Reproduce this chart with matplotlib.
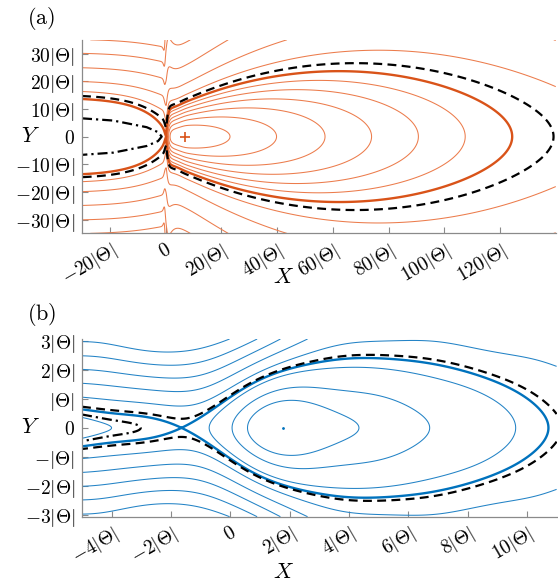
import numpy as np
import matplotlib
matplotlib.use("Agg")
import matplotlib.pyplot as plt

plt.rcParams["mathtext.fontset"] = "cm"
plt.rcParams["font.family"] = "serif"
plt.rcParams["font.serif"] = ["DejaVu Serif"]
plt.rcParams["contour.negative_linestyle"] = "solid"

ORANGE, ORANGE_T = "#D95319", "#EC7C4C"
BLUE, BLUE_T = "#0072BD", "#2383C6"

# ======================= panel (a): values, X, Y in |Theta| =======================
a_xlim, a_ylim = (-30, 140), (-35, 35)
a_xticks = [-20, 0, 20, 40, 60, 80, 100, 120]
a_xticklabels = [r"$-20|\Theta|$", r"$0$", r"$20|\Theta|$", r"$40|\Theta|$", r"$60|\Theta|$",
                 r"$80|\Theta|$", r"$100|\Theta|$", r"$120|\Theta|$"]
a_yticks = [-30, -20, -10, 0, 10, 20, 30]
a_yticklabels = [r"$-30|\Theta|$", r"$-20|\Theta|$", r"$-10|\Theta|$", r"$0$",
                 r"$10|\Theta|$", r"$20|\Theta|$", r"$30|\Theta|$"]
a_center = (6.9, 0.0)
a_saddle = 0.2
a_sep_left = (-30.0, 13.6)          # separatrix height at the left edge
a_sep_right_end = 124.4             # separatrix crossing of Y = 0 on the right
a_closed_right_ends = [23.1, 39.8, 57.2, 73.9, 90.7, 107.5]
a_open_starts = [(-27.0, 35.0), (-30.0, 30.1), (-30.0, 24.9), (-30.0, 19.9), (-30.0, 16.3)]
a_dashed_right_end = 139.2
a_dashdot = [(-30, 6.6), (-18.8, 5.8), (-6.8, 3.4), (-2.7, 1.6), (-1.4, 0.0)]
# shape parameters of the (a) phase-space function, fitted by hand to the traced separatrix
a_GL, a_ell, a_pw, a_lam = 0.49, 12.9, 1.2, 0.59
a_invG = (0.3, 0.085, 0.0014, -0.0000095)

# ======================= panel (b) =======================
b_xlim, b_ylim = (-5, 11), (-3.07, 3.07)
b_xticks = [-4, -2, 0, 2, 4, 6, 8, 10]
b_xticklabels = [r"$-4|\Theta|$", r"$-2|\Theta|$", r"$0$", r"$2|\Theta|$", r"$4|\Theta|$",
                 r"$6|\Theta|$", r"$8|\Theta|$", r"$10|\Theta|$"]
b_yticks = [-3, -2, -1, 0, 1, 2, 3]
b_yticklabels = [r"$-3|\Theta|$", r"$-2|\Theta|$", r"$-|\Theta|$", r"$0$",
                 r"$|\Theta|$", r"$2|\Theta|$", r"$3|\Theta|$"]
b_center = (1.79, 0.0)
b_saddle = -1.63
b_sep = [(-4.99, 0.61), (-3.93, 0.46), (-2.80, 0.27), (-1.63, 0.0), (-0.79, 0.44), (0.0, 1.07),
         (0.79, 1.59), (1.69, 1.92), (2.36, 2.11), (3.14, 2.31), (4.27, 2.42), (5.39, 2.42),
         (6.51, 2.28), (7.64, 2.06), (8.76, 1.59), (9.65, 1.02), (10.33, 0.21), (10.65, 0.0)]
b_closed = {
    "c1": [(0.56, 0), (0.9, 0.5), (1.5, 0.75), (2.3, 0.84), (3.37, 0.73), (4.0, 0.4), (4.3, 0)],
    "c2": [(0.06, 0), (0.34, 0.61), (0.9, 1.1), (2.02, 1.40), (3.14, 1.43), (4.27, 1.25),
           (5.39, 0.9), (6.29, 0.44), (6.68, 0)],
    "c3": [(-0.69, 0), (0.0, 0.78), (0.9, 1.38), (2.02, 1.92), (3.14, 2.08), (4.83, 2.14),
           (6.5, 1.95), (7.64, 1.7), (8.76, 1.2), (9.63, 0)],
}
b_open = {
    "p1": [(-4.99, 2.98), (-3.93, 2.86), (-2.80, 2.72), (-2.02, 2.69), (-1.35, 2.75),
           (-0.79, 2.89), (-0.33, 3.03)],
    "p2": [(-4.99, 2.49), (-3.93, 2.40), (-2.80, 2.23), (-2.13, 2.15), (-1.35, 2.19),
           (-0.56, 2.40), (0.11, 2.69), (0.73, 3.03)],
    "p3": [(-4.99, 2.02), (-3.93, 1.92), (-2.80, 1.74), (-2.02, 1.65), (-1.24, 1.71),
           (-0.56, 1.88), (0.11, 2.17), (0.79, 2.57), (1.69, 3.03)],
    "p4": [(-4.99, 1.54), (-3.93, 1.42), (-2.80, 1.25), (-1.90, 1.13), (-1.12, 1.19),
           (-0.33, 1.48), (0.34, 1.88), (1.01, 2.28), (1.69, 2.57), (2.36, 2.80), (2.97, 3.07)],
    "p5": [(-4.99, 1.06), (-3.93, 0.96), (-2.8, 0.82), (-1.7, 0.70), (-0.8, 0.92), (0.0, 1.40),
           (1.0, 1.95), (2.02, 2.40), (3.14, 2.75), (4.27, 2.92), (5.96, 2.98), (7.64, 2.84),
           (9.32, 2.57), (10.89, 2.17)],
}
b_inner = [(-4.99, 0.36), (-4.4, 0.25), (-3.70, 0.0)]
b_flat = [(2.3, 0.84), (2.7, 1.45), (4.8, 2.14), (4.8, 2.42), (5.96, 2.98), (4.8, 2.49),
          (-2.02, 2.69), (-2.13, 2.15), (-2.02, 1.65), (-1.9, 1.13)]
b_dashed = [(-4.99, 0.73), (-3.93, 0.61), (-2.80, 0.40), (-1.68, 0.30), (-0.89, 0.44), (0.0, 0.96),
            (0.9, 1.48), (1.69, 1.85), (2.36, 2.08), (3.14, 2.40), (4.27, 2.49), (5.39, 2.49),
            (6.51, 2.38), (7.64, 2.17), (8.76, 1.76), (9.88, 1.19), (10.55, 0.61), (10.94, 0.0)]
b_dashdot = [(-4.99, 0.46), (-4.37, 0.38), (-3.70, 0.19), (-3.25, 0.0)]


def mirror(pts):
    p = np.asarray(pts, float)
    q = p[::-1].copy()
    q[:, 1] *= -1
    return np.vstack([p, q[1:]])


def style(ax, xlim, ylim, xt, xtl, yt, ytl):
    ax.set_xlim(xlim)
    ax.set_ylim(ylim)
    for sp in ("top", "right"):
        ax.spines[sp].set_visible(False)
    for sp in ("left", "bottom"):
        ax.spines[sp].set_color("#8a8a8a")
        ax.spines[sp].set_linewidth(0.9)
    ax.set_xticks(xt)
    ax.set_xticklabels(xtl, rotation=30, ha="right", va="top", rotation_mode="anchor", fontsize=14)
    ax.set_yticks(yt)
    ax.set_yticklabels(ytl, fontsize=14)
    ax.tick_params(direction="in", length=4, width=0.8, color="#8a8a8a", pad=5)


# ======================= panel (a): H = V(X) + G(X) K_b(X)(Y) =======================
def make_a_field():
    xs, xc = a_saddle, a_center[0]
    c0, c1, c2, c3 = a_invG

    def ramp(x):
        return np.sqrt((x - xc) ** 2 + 1.0) - 1.0

    phi30 = np.exp(-((xs - a_sep_left[0]) / a_ell) ** a_pw)
    Es = a_GL * a_sep_left[1] ** 2 / (1.0 - phi30)
    E0 = Es - ramp(a_sep_right_end)
    A = (Es - E0 - ramp(xs)) * np.exp(xs / a_lam)

    def parts(X):
        X = np.atleast_1d(np.asarray(X, float))
        S = 1.0 / (1.0 + np.exp(-(X - xs) / 0.25))
        VL = Es * np.exp(-(np.clip(xs - X, 0, None) / a_ell) ** a_pw)
        xr = np.maximum(X, xs)
        VR = E0 + A * np.exp(-xr / a_lam) + ramp(xr)
        V = VL * (1 - S) + VR * S
        GR = 1.0 / (c0 + c1 * xr + c2 * xr ** 2 + c3 * xr ** 3)
        G = a_GL * (1 - S) + GR * S
        b = 1.0 / ((1 - S) / 1000.0 + S / (1.5 + xr))
        return V, G, b

    def field(X, Y):
        V, G, b = parts(X)
        Y = np.atleast_1d(np.asarray(Y, float))[:, None]
        K = 2 * b[None, :] * Y ** 2 / (np.sqrt(b[None, :] ** 2 + Y ** 2) + b[None, :])
        return V[None, :] + G[None, :] * K

    return field


def draw_a(ax):
    field = make_a_field()
    X = np.linspace(a_xlim[0], a_xlim[1], 1500)
    Y = np.linspace(a_ylim[0], a_ylim[1], 900)
    H = field(X, Y)
    V0 = field(X, [0.0])[0]
    x_sep = X[np.argmax(np.where(np.abs(X - a_saddle) < 1.0, V0, -np.inf))]
    h_sep = field([x_sep], [0.0])[0, 0]
    right = np.broadcast_to(X[None, :] > x_sep, H.shape)
    Hr = np.ma.masked_where(~right, H)
    lv_closed = sorted(field([x], [0.0])[0, 0] for x in a_closed_right_ends)
    lv_open = sorted(field([x], [y])[0, 0] for x, y in a_open_starts)
    lv_dash = field([a_dashed_right_end], [0.0])[0, 0]
    ax.contour(X, Y, H, levels=lv_open, colors=ORANGE_T, linewidths=0.75)
    ax.contour(X, Y, Hr, levels=lv_closed, colors=ORANGE_T, linewidths=0.75)
    ax.contour(X, Y, H, levels=[h_sep], colors=ORANGE, linewidths=1.7)
    cs = ax.contour(X, Y, H, levels=[lv_dash], colors="k", linewidths=1.6)
    cs.set_linestyle((0, (4.0, 2.4)))
    d = mirror(a_dashdot)
    ax.plot(d[:, 0], d[:, 1], color="k", lw=1.6, ls=(0, (4.5, 1.8, 1.0, 1.8)))
    ax.plot([a_center[0]], [a_center[1]], marker="+", color=ORANGE, ms=7, mew=1.2)


# ======================= panel (b): smooth field through the traced curves =======================
def gauss(u, cen, w, deriv=False):
    d = (u[:, None] - cen[None, :]) / w
    g = np.exp(-0.5 * d ** 2)
    return -d / w * g if deriv else g


def kin_b(y):
    return np.sqrt(1.0 + np.asarray(y, float) ** 2) - 1.0


def fit_b(curves, weights, flats, eqx, xl, n=18, lam=0.05):
    cen = np.linspace(-6.5, 12.5, n)
    w = (cen[1] - cen[0]) * 1.3
    basis = lambda x, d=False: gauss(np.atleast_1d(np.asarray(x, float)), cen, w, d)
    fixed = {k: float(kin_b(p[0][1])) for k, p in curves.items() if abs(p[0][0] - xl) < 0.05}
    free = [k for k in curves if k not in fixed]
    m = 2 * n + len(free)

    def rows_for(x, y, d=False):
        P = basis(x, d)
        M = np.zeros((len(x), m))
        M[:, :n] = P
        M[:, n:2 * n] = P * kin_b(y)[:, None]
        return M

    R, r = [], []
    for k, pts in curves.items():
        p = np.asarray(pts, float)
        M = rows_for(p[:, 0], p[:, 1])
        v = np.zeros(len(p))
        if k in fixed:
            v[:] = fixed[k]
        else:
            M[:, 2 * n + free.index(k)] = -1.0
        wt = weights.get(k, 1.0) * np.where(p[:, 1] == 0, 4.0, 1.0)
        R.append(M * wt[:, None])
        r.append(v * wt)
    P0 = basis([xl])[0]
    for j in range(2):
        M = np.zeros((1, m))
        M[0, j * n:(j + 1) * n] = P0 * 20
        R.append(M)
        r.append(np.array([20.0 if j == 1 else 0.0]))
    Pd = basis(eqx, True)
    M = np.zeros((len(eqx), m))
    M[:, :n] = Pd * 5
    R.append(M)
    r.append(np.zeros(len(eqx)))
    fl = np.asarray(flats, float)
    R.append(rows_for(fl[:, 0], fl[:, 1], True))
    r.append(np.zeros(len(fl)))
    D2 = np.diff(np.eye(n), 2, axis=0)
    for j in range(2):
        M = np.zeros((n - 2, m))
        M[:, j * n:(j + 1) * n] = D2 * lam
        R.append(M)
        r.append(np.zeros(n - 2))
    z = np.linalg.lstsq(np.vstack(R), np.concatenate(r), rcond=None)[0]
    a_co, b_co = z[:n], z[n:2 * n]
    lev = dict(fixed)
    for i, k in enumerate(free):
        lev[k] = float(z[2 * n + i])
    field = lambda X, Y: (basis(X) @ a_co)[None, :] + (basis(X) @ b_co)[None, :] * kin_b(Y)[:, None]
    return field, (lambda x: basis(x) @ a_co), lev


def draw_b(ax):
    curves = {"sep": b_sep, "inner": b_inner, "dashed": b_dashed, "dashdot": b_dashdot}
    curves.update(b_closed)
    curves.update(b_open)
    weights = {"sep": 2.0, "dashed": 0.7, "dashdot": 0.7, "p5": 3.0}
    field, Af, lev = fit_b(curves, weights, b_flat, [b_saddle, b_center[0]], b_xlim[0])
    X = np.linspace(b_xlim[0], b_xlim[1], 1200)
    Y = np.linspace(b_ylim[0], b_ylim[1], 900)
    H = field(X, Y)
    xs = np.linspace(b_saddle - 0.6, b_saddle + 0.6, 800)
    vs = Af(xs)
    h_sep, x_sep = vs.max(), xs[np.argmax(vs)]
    left = np.broadcast_to(X[None, :] < x_sep, H.shape)
    Hl = np.ma.masked_where(~left, H)
    Hr = np.ma.masked_where(left, H)
    ax.contour(X, Y, H, levels=sorted(lev[k] for k in b_open), colors=BLUE_T, linewidths=0.75)
    ax.contour(X, Y, Hr, levels=sorted(lev[k] for k in b_closed), colors=BLUE_T, linewidths=0.75)
    ax.contour(X, Y, Hl, levels=[lev["inner"]], colors=BLUE_T, linewidths=0.75)
    ax.contour(X, Y, H, levels=[h_sep], colors=BLUE, linewidths=1.7)
    cs = ax.contour(X, Y, H, levels=[lev["dashed"]], colors="k", linewidths=1.6)
    cs.set_linestyle((0, (4.0, 2.4)))
    cs = ax.contour(X, Y, Hl, levels=[lev["dashdot"]], colors="k", linewidths=1.6)
    cs.set_linestyle((0, (4.5, 1.8, 1.0, 1.8)))
    ax.plot([b_center[0]], [b_center[1]], marker=".", color=BLUE, ms=2)


fig = plt.figure(figsize=(5.58, 5.82), dpi=100)
axA = fig.add_axes([0.147, 0.599, 0.849, 0.3326])
axB = fig.add_axes([0.147, 0.1122, 0.8505, 0.3053])
draw_a(axA)
draw_b(axB)
style(axA, a_xlim, a_ylim, a_xticks, a_xticklabels, a_yticks, a_yticklabels)
style(axB, b_xlim, b_ylim, b_xticks, b_xticklabels, b_yticks, b_yticklabels)

for lab, ypx, ylab_px in (("a", 18, 136), ("b", 315, 427)):
    fig.text(27 / 558, 1 - ypx / 582, r"$(\mathrm{%s})$" % lab, fontsize=16, ha="left", va="center")
    fig.text(30 / 558, 1 - ylab_px / 582, r"$Y$", fontsize=16, ha="center", va="center")
fig.text(283 / 558, 1 - 277 / 582, r"$X$", fontsize=16, ha="center", va="center")
fig.text(283 / 558, 1 - 572 / 582, r"$X$", fontsize=16, ha="center", va="center")

fig.savefig("out.png", dpi=100)
